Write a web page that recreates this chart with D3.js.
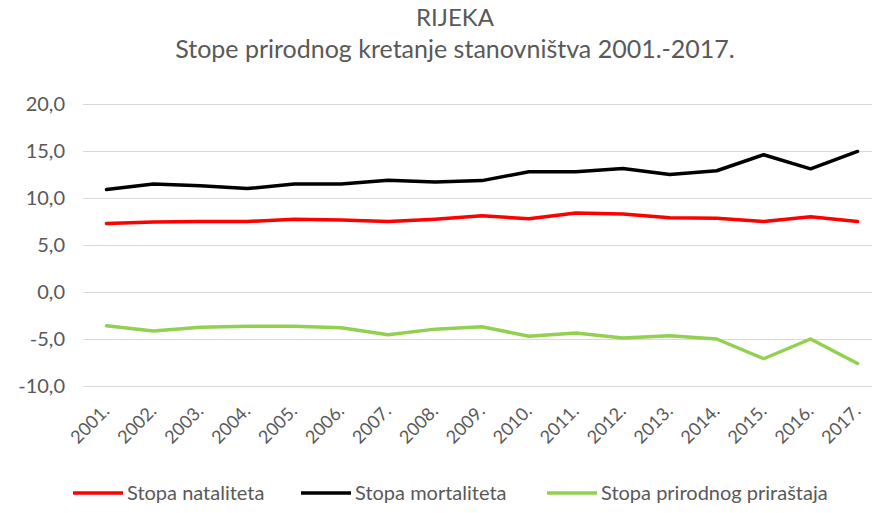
<!DOCTYPE html>
<meta charset="utf-8">
<style>
 body { margin: 0; background: #fff; }
 text { font-family: Lato, "Open Sans", sans-serif; fill: #595959; }
 .grid line { stroke: #d9d9d9; stroke-width: 1; shape-rendering: crispEdges; }
</style>
<body>
<script src="https://cdnjs.cloudflare.com/ajax/libs/d3/7.8.5/d3.min.js"></script>
<script>

 var years = ["2001.", "2002.", "2003.", "2004.", "2005.", "2006.", "2007.", "2008.", "2009.",
              "2010.", "2011.", "2012.", "2013.", "2014.", "2015.", "2016.", "2017."];
 var natalitet = [7.3, 7.45, 7.5, 7.5, 7.75, 7.65, 7.5, 7.75, 8.1, 7.8, 8.4, 8.3, 7.9, 7.85, 7.5, 8.0, 7.5];
 var mortalitet = [10.9, 11.5, 11.3, 11.0, 11.5, 11.5, 11.9, 11.7, 11.85, 12.8, 12.8, 13.15, 12.5, 12.9, 14.6, 13.1, 14.95];
 var prirastaj = [-3.6, -4.15, -3.75, -3.65, -3.65, -3.8, -4.55, -3.95, -3.7, -4.7, -4.35, -4.9, -4.65, -5.0, -7.1, -5.0, -7.6];
 var yTicks = [-10, -5, 0, 5, 10, 15, 20];

 var series = [
     {name: "Stopa nataliteta", values: natalitet, color: "#ff0000"},
     {name: "Stopa mortaliteta", values: mortalitet, color: "#000000"},
     {name: "Stopa prirodnog priraštaja", values: prirastaj, color: "#92d050"}
 ];

 var width = 877, height = 513;
 var plot = {left: 83, right: 881, top: 104, bottom: 386};

 var svg = d3.select("body").append("svg")
             .attr("width", width)
             .attr("height", height);

 var xScale = d3.scaleBand()
                .domain(years)
                .range([plot.left, plot.right]);

 var yScale = d3.scaleLinear()
                .domain([-10, 20])
                .range([plot.bottom, plot.top]);

 // title
 svg.append("text")
    .attr("x", 455).attr("y", 26)
    .attr("text-anchor", "middle")
    .style("font-size", "24px")
    .text("RIJEKA");
 svg.append("text")
    .attr("x", 455).attr("y", 58)
    .attr("text-anchor", "middle")
    .style("font-size", "25px")
    .text("Stope prirodnog kretanje stanovništva 2001.-2017.");

 // gridlines
 svg.append("g")
    .attr("class", "grid")
    .selectAll("line")
    .data(yTicks)
    .enter().append("line")
    .attr("x1", plot.left).attr("x2", 872)
    .attr("y1", function(d) { return yScale(d); })
    .attr("y2", function(d) { return yScale(d); });

 // y axis labels
 var yAxis = d3.axisLeft(yScale)
               .tickValues(yTicks)
               .tickSize(0)
               .tickPadding(18)
               .tickFormat(function(d) { return d3.format(".1f")(d).replace(".", ",").replace("−", "-"); });

 var gY = svg.append("g")
             .attr("transform", "translate(" + plot.left + ",0)")
             .call(yAxis);
 gY.select(".domain").remove();
 gY.selectAll("text").style("font-size", "20px").attr("fill", "#595959");

 // x axis labels
 var xAxis = d3.axisBottom(xScale).tickSize(0);
 var gX = svg.append("g")
             .attr("transform", "translate(0," + plot.bottom + ")")
             .call(xAxis);
 gX.select(".domain").remove();
 gX.selectAll("text")
   .style("font-size", "18px")
   .attr("fill", "#595959")
   .attr("text-anchor", "end")
   .attr("dy", null)
   .attr("transform", "translate(2,24) rotate(-45)");

 // lines
 var line = d3.line()
              .x(function(d, i) { return xScale(years[i]) + xScale.bandwidth() / 2; })
              .y(function(d) { return yScale(d); });

 svg.selectAll(".series")
    .data(series)
    .enter().append("path")
    .attr("class", "series")
    .attr("fill", "none")
    .attr("stroke", function(d) { return d.color; })
    .attr("stroke-width", 3.5)
    .attr("stroke-linejoin", "round")
    .attr("stroke-linecap", "round")
    .attr("d", function(d) { return line(d.values); });

 // legend
 var legendX = [73, 301, 547];
 var legend = svg.selectAll(".legend")
                 .data(series)
                 .enter().append("g")
                 .attr("class", "legend")
                 .attr("transform", function(d, i) { return "translate(" + legendX[i] + ",493)"; });
 legend.append("line")
       .attr("x1", 0).attr("x2", 50)
       .attr("stroke", function(d) { return d.color; })
       .attr("stroke-width", 3.5);
 legend.append("text")
       .attr("x", 54).attr("dy", "0.35em")
       .style("font-size", "20px")
       .text(function(d) { return d.name; });

</script>
